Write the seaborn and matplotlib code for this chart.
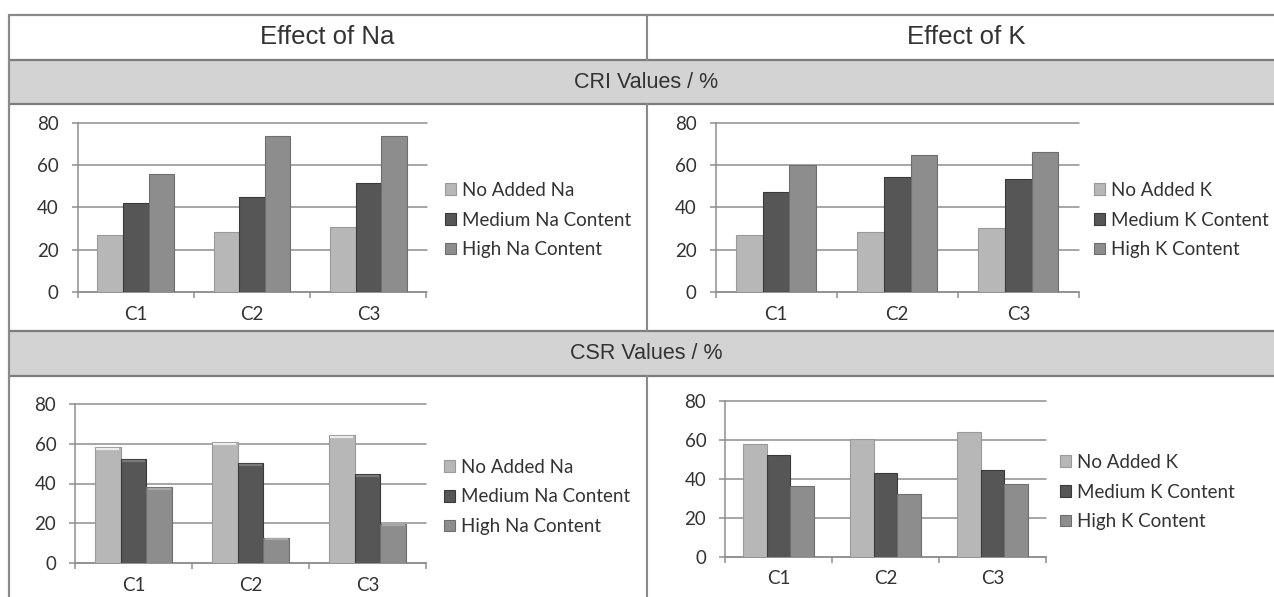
import matplotlib
matplotlib.use("Agg")
import numpy as np
import pandas as pd
import seaborn as sns
import matplotlib.pyplot as plt
from matplotlib.lines import Line2D
from matplotlib.patches import Rectangle

# ---- data -------------------------------------------------------------
categories = ["C1", "C2", "C3"]
na_series = ["No Added Na", "Medium Na Content", "High Na Content"]
k_series = ["No Added K", "Medium K Content", "High K Content"]

cri_na_none = [27.0, 28.3, 30.5]
cri_na_medium = [42.0, 44.8, 51.4]
cri_na_high = [55.8, 73.7, 73.7]

cri_k_none = [27.0, 28.1, 30.3]
cri_k_medium = [47.3, 54.5, 53.5]
cri_k_high = [59.9, 64.8, 66.0]

csr_na_none = [58.5, 61.0, 64.4]
csr_na_medium = [52.3, 50.1, 44.7]
csr_na_high = [38.3, 12.8, 19.8]

csr_k_none = [58.0, 60.5, 64.0]
csr_k_medium = [52.0, 42.9, 44.6]
csr_k_high = [36.0, 32.2, 37.0]

headers = ["Effect of Na", "Effect of K"]
band_titles = ["CRI Values / %", "CSR Values / %"]
y_ticks = [0, 20, 40, 60, 80]

# ---- style ------------------------------------------------------------
sns.set_theme(style="white")
plt.rcParams["font.family"] = ["Lato", "DejaVu Sans"]

bar_colors = ["#b7b7b7", "#565656", "#8d8d8d"]
bar_edges = ["#9a9a9a", "#3a3a3a", "#6e6e6e"]
bevel_colors = ["#ececec", "#7a7a7a", "#a8a8a8"]
grid_color = "#8e8e8e"
frame_color = "#8a8a8a"
band_color = "#d3d3d3"
text_color = "#333333"

W, H = 1274, 597
fig = plt.figure(figsize=(W / 100, H / 100), dpi=100)
fig.patch.set_facecolor("white")


def fx(x):
    return x / W


def fy(y):
    return 1 - y / H


def hline(y, x0, x1, color=frame_color, lw=1.5):
    fig.add_artist(Line2D([fx(x0), fx(x1)], [fy(y), fy(y)],
                          transform=fig.transFigure, color=color, lw=lw, zorder=1))


def vline(x, y0, y1, color=frame_color, lw=1.5):
    fig.add_artist(Line2D([fx(x), fx(x)], [fy(y0), fy(y1)],
                          transform=fig.transFigure, color=color, lw=lw, zorder=1))


# ---- table frame ------------------------------------------------------
LEFT, DIV = 9, 647
for top, bottom in [(60, 104), (331, 376)]:
    fig.add_artist(Rectangle((fx(LEFT), fy(bottom)), fx(W) - fx(LEFT), (bottom - top) / H,
                             transform=fig.transFigure, facecolor=band_color,
                             edgecolor="none", zorder=0))
    hline(top, LEFT, W, color="#7c7c7c", lw=1.6)
    hline(bottom, LEFT, W, color="#7c7c7c", lw=1.6)
hline(15, LEFT, W, lw=1.6)
vline(LEFT, 15, H, lw=1.6)
vline(DIV, 15, 60)
vline(DIV, 104, 331)
vline(DIV, 376, H)

title_font = ["Liberation Sans", "DejaVu Sans"]
fig.text(fx(327), fy(37.5), headers[0], ha="center", va="center",
         fontsize=18.5, color=text_color, family=title_font)
fig.text(fx(966), fy(37.5), headers[1], ha="center", va="center",
         fontsize=18.5, color=text_color, family=title_font)
fig.text(fx(646.5), fy(82), band_titles[0], ha="center", va="center",
         fontsize=15.5, color=text_color, family=title_font)
fig.text(fx(646.5), fy(353.5), band_titles[1], ha="center", va="center",
         fontsize=15.5, color=text_color, family=title_font)


# ---- chart panels -----------------------------------------------------
def panel(box, series_names, series_values, legend_left, legend_mid, spacing,
          bevel=False):
    x0, y0, x1, y1 = box
    ax = fig.add_axes([fx(x0), fy(y1), (x1 - x0) / W, (y1 - y0) / H])
    ax.set_facecolor("none")

    df = pd.DataFrame({
        "Category": categories * len(series_names),
        "Series": np.repeat(series_names, len(categories)),
        "Value": np.concatenate(series_values),
    })
    sns.barplot(data=df, x="Category", y="Value", hue="Series",
                hue_order=series_names, order=categories,
                palette=bar_colors, saturation=1, width=0.66,
                errorbar=None, legend=False, ax=ax, zorder=3)
    for cont, ec, bc in zip(ax.containers, bar_edges, bevel_colors):
        for p in cont:
            p.set_edgecolor(ec)
            p.set_linewidth(0.8)
            if bevel:
                # soft highlight along the top face of each bar
                bx, bw, bh = p.get_x(), p.get_width(), p.get_height()
                ax.plot([bx + bw * 0.06, bx + bw * 0.94], [bh - 0.9, bh - 0.9],
                        color=bc, lw=1.6, solid_capstyle="butt", zorder=4)

    ax.set_xlim(-0.5, 2.5)
    ax.set_ylim(0, 80)
    ax.set_yticks(y_ticks)
    ax.set_xlabel("")
    ax.set_ylabel("")
    ax.yaxis.grid(True, color=grid_color, lw=1.1)
    ax.xaxis.grid(False)
    ax.set_axisbelow(True)
    for gl in ax.get_ygridlines():
        gl.set_clip_on(False)

    for side in ["top", "right"]:
        ax.spines[side].set_visible(False)
    for side in ["left", "bottom"]:
        ax.spines[side].set_color(grid_color)
        ax.spines[side].set_linewidth(1.1)

    ax.tick_params(axis="y", left=True, length=4.5, width=1.1, color=grid_color,
                   pad=9, labelsize=13.5, labelcolor=text_color)
    ax.set_xticks([-0.5, 0.5, 1.5, 2.5], minor=True)
    ax.tick_params(axis="x", which="minor", bottom=True, length=4.5, width=1.1,
                   color=grid_color, direction="out")
    ax.tick_params(axis="x", which="major", bottom=False, length=0, pad=10,
                   labelsize=13.5, labelcolor=text_color)

    handles = [Rectangle((0, 0), 1, 1, facecolor=c, edgecolor=e, lw=0.8)
               for c, e in zip(bar_colors, bar_edges)]
    fig.legend(handles, series_names, loc="center left",
               bbox_to_anchor=(fx(legend_left), fy(legend_mid)),
               bbox_transform=fig.transFigure, frameon=False,
               borderpad=0, borderaxespad=0, handlelength=0.6, handleheight=0.6,
               handletextpad=0.3, labelspacing=spacing, fontsize=13.5,
               labelcolor=text_color)
    return ax


panel((77.6, 122.6, 426.5, 292), na_series,
      [cri_na_none, cri_na_medium, cri_na_high], 445, 220, 0.67)
panel((715.6, 122.6, 1079, 292), k_series,
      [cri_k_none, cri_k_medium, cri_k_high], 1094, 220, 0.67)
panel((75, 404, 426, 563), na_series,
      [csr_na_none, csr_na_medium, csr_na_high], 444, 497, 0.67, bevel=True)
panel((725, 400.7, 1046, 556.6), k_series,
      [csr_k_none, csr_k_medium, csr_k_high], 1060, 492, 0.67)

fig.savefig("out.png", dpi=100, facecolor="white")
